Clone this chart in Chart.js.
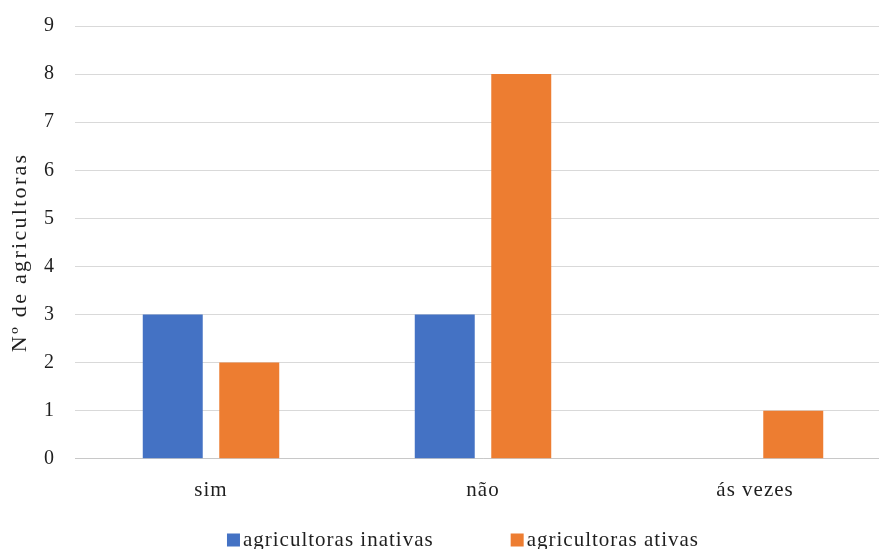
<!DOCTYPE html>
<html>
<head>
<meta charset="utf-8">
<script src="https://cdn.jsdelivr.net/npm/chart.js@4/dist/chart.umd.min.js"></script>
<style>
  html, body { margin: 0; padding: 0; background: #fff; overflow: hidden; }
  #wrap { position: relative; width: 900px; height: 549px; }
</style>
</head>
<body>
<div id="wrap"><canvas id="c"></canvas></div>
<script>
// Respostas por categoria
const categories = ['sim', 'não', 'ás vezes'];
const inativas = [3, 3, 0];
const ativas = [2, 8, 1];
const seriesNames = ['agricultoras inativas', 'agricultoras ativas'];
const yTicks = [0, 1, 2, 3, 4, 5, 6, 7, 8, 9];
const yTitle = 'Nº de agricultoras';

const COLORS = ['#4472C4', '#ED7D31'];
const FONT = '"Liberation Serif", "Times New Roman", serif';
const TEXT = '#1f1f1f';

// Espaçamento entre letras aplicado a todo o texto do gráfico
const textSpacing = {
  id: 'textSpacing',
  beforeDraw(chart) { chart.ctx.letterSpacing = '1px'; }
};

// Título do eixo Y e legenda desenhados à mão
const extras = {
  id: 'extras',
  afterDraw(chart) {
    const ctx = chart.ctx;
    const area = chart.chartArea;

    // título vertical
    ctx.save();
    ctx.letterSpacing = '2.3px';
    ctx.font = '22px ' + FONT;
    ctx.fillStyle = TEXT;
    ctx.textAlign = 'center';
    ctx.textBaseline = 'middle';
    ctx.translate(20, (area.top + area.bottom) / 2 + 10);
    ctx.rotate(-Math.PI / 2);
    ctx.fillText(yTitle, 0, 0);
    ctx.restore();

    // legenda
    ctx.save();
    ctx.letterSpacing = '1px';
    ctx.font = '21px ' + FONT;
    ctx.textBaseline = 'middle';
    ctx.textAlign = 'left';
    const box = 13, gapText = 3, gapItem = 77;
    const y = 539;
    const widths = chart.data.datasets.map(d => box + gapText + ctx.measureText(d.label).width);
    const total = widths.reduce((a, b) => a + b, 0) + gapItem * (widths.length - 1);
    let x = 463 - total / 2;
    chart.data.datasets.forEach((d, i) => {
      ctx.fillStyle = d.backgroundColor;
      ctx.fillRect(x, y - box / 2 + 1, box, box);
      ctx.fillStyle = TEXT;
      ctx.fillText(d.label, x + box + gapText, y + 1);
      x += widths[i] + gapItem;
    });
    ctx.restore();
  }
};

new Chart(document.getElementById('c'), {
  type: 'bar',
  data: {
    labels: categories,
    datasets: [
      { label: seriesNames[0], data: inativas, backgroundColor: COLORS[0] },
      { label: seriesNames[1], data: ativas, backgroundColor: COLORS[1] }
    ]
  },
  options: {
    responsive: true,
    maintainAspectRatio: false,
    animation: false,
    categoryPercentage: 0.5625,
    barPercentage: 0.784,
    layout: { padding: { top: 26, right: 9, bottom: 27, left: 0 } },
    plugins: {
      legend: { display: false },
      tooltip: { enabled: false }
    },
    scales: {
      x: {
        grid: { display: false, drawTicks: false },
        border: { display: true, color: '#c8c8c8', width: 1 },
        ticks: { color: TEXT, font: { family: FONT, size: 21 }, padding: 19 }
      },
      y: {
        min: 0,
        max: 9,
        afterBuildTicks(scale) { scale.ticks = yTicks.map(v => ({ value: v })); },
        afterFit(scale) { scale.width = 75; scale.paddingTop = 0; },
        grid: { color: '#d9d9d9', lineWidth: 1, drawTicks: false },
        border: { display: false },
        ticks: { color: TEXT, font: { family: FONT, size: 20 }, padding: 20 }
      }
    }
  },
  plugins: [textSpacing, extras]
});
</script>
</body>
</html>
